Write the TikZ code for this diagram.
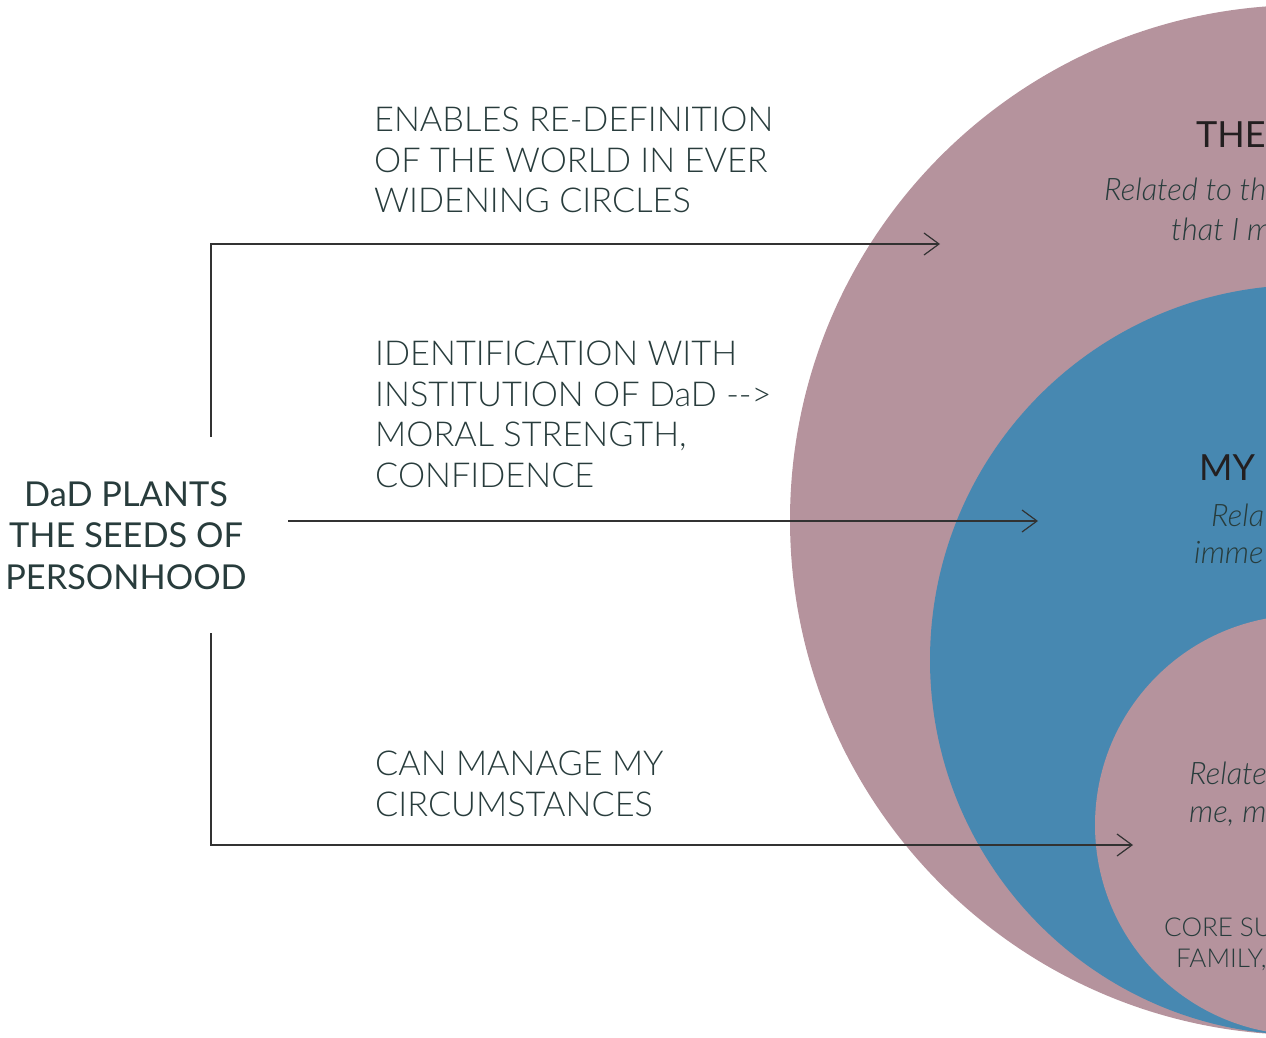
\documentclass[tikz,border=0pt]{standalone}
\usepackage{fontspec}
\setmainfont{Lato}
\newfontfamily\lightfont{Lato Light}
\usetikzlibrary{arrows.meta, positioning}
\definecolor{mauve}{RGB}{181,147,157}
\definecolor{steel}{RGB}{71,136,177}
\definecolor{slate}{RGB}{40,60,60}
\definecolor{ink}{RGB}{35,31,32}
\definecolor{wire}{RGB}{50,50,50}
\tikzstyle{textarea} = [inner sep = 0, anchor = north west, align = left,
  text = slate, font = \lightfont\fontsize{34.3}{40.6}\selectfont]
\tikzstyle{seed} = [inner sep = 0, anchor = north, align = center,
  text = slate, font = \fontsize{34.3}{41.5}\selectfont]
\tikzstyle{ringtitle} = [inner sep = 0, anchor = base west, text = ink,
  font = \fontsize{36}{40}\selectfont]
\tikzstyle{ringnote} = [inner sep = 0, anchor = base west, text = slate,
  font = \lightfont\itshape\fontsize{31}{38}\selectfont]
\tikzstyle{ringcore} = [inner sep = 0, anchor = base west, text = slate,
  font = \lightfont\fontsize{26}{31}\selectfont]
\tikzstyle{wire} = [draw = wire, line width = 1.2pt,
  -{Straight Barb[length = 15pt, width = 22pt]}]

\begin{document}
\begin{tikzpicture}[x = 1pt, y = -1pt]
    \useasboundingbox (0, 0) rectangle (1266, 1038);
    \clip (0, 0) rectangle (1266, 1038);
    % rings
    \fill [mauve] (1305, 520) circle (515);
    \fill [steel] (1305, 660) circle (375);
    \fill [mauve] (1305, 825) circle (210);
    % ring-outer
    \node [ringtitle] (world-title) at (1196, 148) {THE};
    \node [ringnote] (world-note-a) at (1104, 200) {Related to th};
    \node [ringnote] (world-note-b) at (1171, 240) {that I m};
    % ring-middle
    \node [ringtitle] (my-title) at (1199, 480) {MY};
    \node [ringnote] (my-note-a) at (1211, 526) {Rela};
    \node [ringnote] (my-note-b) at (1194, 563) {imme};
    % ring-inner
    \node [ringnote] (core-note-a) at (1189, 784) {Relate};
    \node [ringnote] (core-note-b) at (1189, 822) {me, m};
    \node [ringcore] (core-a) at (1164, 936) {CORE SU};
    \node [ringcore] (core-b) at (1176, 967) {FAMILY,};
    % seeds
    \node [seed] (seeds) at (126, 481) {DaD PLANTS\\THE SEEDS OF\\PERSONHOOD};
    % textareas
    \node [textarea] (textarea-world) at (374, 107)
      {ENABLES RE-DEFINITION\\OF THE WORLD IN EVER\\WIDENING CIRCLES};
    \node [textarea] (textarea-moral) at (375, 341)
      {IDENTIFICATION WITH\\INSTITUTION OF DaD -->\\MORAL STRENGTH,\\CONFIDENCE};
    \node [textarea] (textarea-manage) at (375, 751)
      {CAN MANAGE MY\\CIRCUMSTANCES};
    % wires
    \coordinate (seeds-top) at (211, 437);
    \coordinate (seeds-right) at (288, 521);
    \coordinate (seeds-bottom) at (211, 633);
    \coordinate (tip-world) at (940, 244);
    \coordinate (tip-my) at (1038, 521);
    \coordinate (tip-core) at (1133, 845);

    \draw [wire] (seeds-top) |- (tip-world);
    \draw [wire] (seeds-right) -- (tip-my);
    \draw [wire] (seeds-bottom) |- (tip-core);
  \end{tikzpicture}
\end{document}
